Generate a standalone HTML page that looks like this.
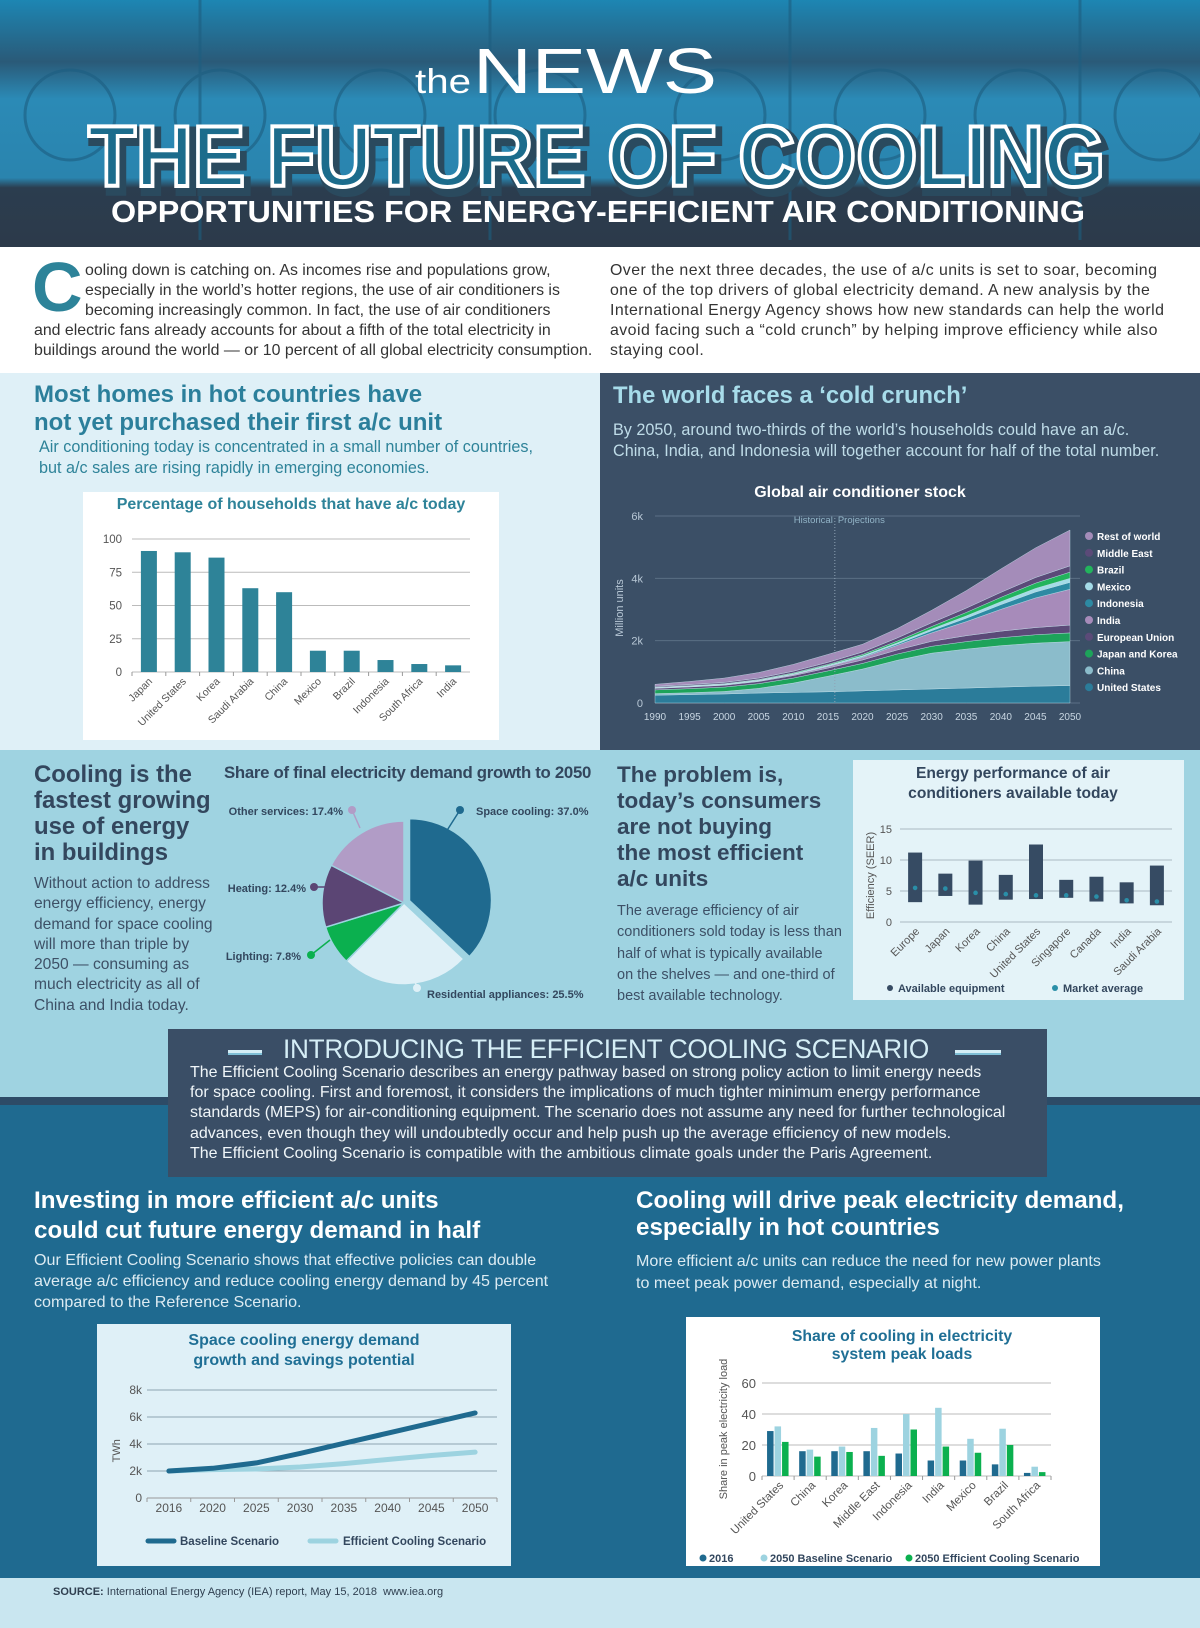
<!DOCTYPE html>
<html><head><meta charset="utf-8"><style>
*{margin:0;padding:0;box-sizing:border-box}
body{width:1200px;height:1628px;position:relative;overflow:hidden;font-family:"Liberation Sans",sans-serif;background:#fff}
.a{position:absolute;white-space:nowrap}
.bg{position:absolute}
svg.ov{position:absolute;left:0;top:0;width:1200px;height:1628px;overflow:visible}
</style></head><body>

<!-- Header -->
<svg class="ov" viewBox="0 0 1200 1628" style="height:1628px">
<defs>
<linearGradient id="hg" x1="0" y1="0" x2="0" y2="1">
<stop offset="0" stop-color="#1d86b3"/><stop offset="0.25" stop-color="#2a5a78"/><stop offset="0.4" stop-color="#2b8ab6"/><stop offset="0.72" stop-color="#2a84ae"/><stop offset="0.76" stop-color="#2b3d4f"/><stop offset="1" stop-color="#2c3a4a"/>
</linearGradient>
</defs>
<rect x="0" y="0" width="1200" height="247" fill="url(#hg)"/>
<g fill="none" stroke="#1d5e80" stroke-width="3" opacity="0.6">
<circle cx="70" cy="115" r="45"/><circle cx="220" cy="115" r="45"/><circle cx="380" cy="115" r="45"/><circle cx="540" cy="115" r="45"/><circle cx="720" cy="115" r="45"/><circle cx="880" cy="115" r="45"/><circle cx="1020" cy="115" r="45"/><circle cx="1160" cy="115" r="45"/>
<line x1="200" y1="0" x2="200" y2="240"/><line x1="490" y1="0" x2="490" y2="240"/><line x1="790" y1="0" x2="790" y2="240"/><line x1="1080" y1="0" x2="1080" y2="240"/>
</g>
<text x="415" y="93" fill="#fff" font-size="34" font-family="Liberation Sans" textLength="56" lengthAdjust="spacingAndGlyphs">the</text>
<text x="473" y="93" fill="#fff" font-size="64" font-family="Liberation Sans" textLength="244" lengthAdjust="spacingAndGlyphs">NEWS</text>
<text x="92" y="191" fill="#1b6684" stroke="#2a4a5e" stroke-width="10" font-size="86" font-weight="bold" font-family="Liberation Sans" textLength="1017" lengthAdjust="spacingAndGlyphs">THE FUTURE OF COOLING</text>
<text x="88" y="186" fill="#1c6c8c" stroke="#ffffff" stroke-width="4" font-size="86" font-weight="bold" font-family="Liberation Sans" textLength="1017" lengthAdjust="spacingAndGlyphs">THE FUTURE OF COOLING</text>
<text x="111" y="222" fill="#fff" font-size="31" font-weight="bold" font-family="Liberation Sans" textLength="974" lengthAdjust="spacingAndGlyphs">OPPORTUNITIES FOR ENERGY-EFFICIENT AIR CONDITIONING</text>
</svg>

<!-- Intro -->
<div class="a" style="left:32px;top:252px;font-size:70px;font-weight:bold;color:#2d8399;line-height:70px">C</div>
<div class="a" style="left:34px;top:261px;font-size:15.9px;line-height:19.9px;color:#333">
<span style="padding-left:51px">ooling down is catching on. As incomes rise and populations grow,</span><br>
<span style="padding-left:51px">especially in the world’s hotter regions, the use of air conditioners is</span><br>
<span style="padding-left:51px">becoming increasingly common. In fact, the use of air conditioners</span><br>
and electric fans already accounts for about a fifth of the total electricity in<br>
buildings around the world — or 10 percent of all global electricity consumption.</div>
<div class="a" style="left:610px;top:261px;font-size:15.9px;line-height:19.9px;color:#333;letter-spacing:0.45px">
Over the next three decades, the use of a/c units is set to soar, becoming<br>
one of the top drivers of global electricity demand. A new analysis by the<br>
International Energy Agency shows how new standards can help the world<br>
avoid facing such a “cold crunch” by helping improve efficiency while also<br>
staying cool.</div>

<!-- Section 2 -->
<div class="bg" style="left:0;top:373px;width:600px;height:377px;background:#dff0f7"></div>
<div class="bg" style="left:600px;top:373px;width:600px;height:377px;background:#3b4f66"></div>
<div class="a" style="left:34px;top:381px;font-size:24px;font-weight:bold;color:#2b7f9b;line-height:28px">Most homes in hot countries have<br>not yet purchased their first a/c unit</div>
<div class="a" style="left:39px;top:437px;font-size:16.2px;color:#2e8399;line-height:21px">Air conditioning today is concentrated in a small number of countries,<br>but a/c sales are rising rapidly in emerging economies.</div>
<div class="bg" style="left:83px;top:492px;width:416px;height:248px;background:#fff"></div>
<div class="a" style="left:83px;top:496px;width:416px;text-align:center;font-size:16px;font-weight:bold;color:#2e8399">Percentage of households that have a/c today</div>
<svg class="ov" id="c1"></svg>

<div class="a" style="left:613px;top:382px;font-size:23.8px;font-weight:bold;color:#a7dcea">The world faces a ‘cold crunch’</div>
<div class="a" style="left:613px;top:420px;font-size:16.2px;color:#bfdce8;line-height:21px">By 2050, around two-thirds of the world’s households could have an a/c.<br>China, India, and Indonesia will together account for half of the total number.</div>
<div class="a" style="left:600px;top:484px;width:520px;text-align:center;font-size:16px;font-weight:bold;color:#fff">Global air conditioner stock</div>
<svg class="ov" id="c2"></svg>

<!-- Section 3 -->
<div class="bg" style="left:0;top:750px;width:1200px;height:350px;background:#9fd3e1"></div>
<div class="a" style="left:34px;top:762px;font-size:23.9px;font-weight:bold;color:#33475e;line-height:26px">Cooling is the<br>fastest growing<br>use of energy<br>in buildings</div>
<div class="a" style="left:34px;top:874px;font-size:15.6px;color:#3d5066;line-height:20.3px">Without action to address<br>energy efficiency, energy<br>demand for space cooling<br>will more than triple by<br>2050 — consuming as<br>much electricity as all of<br>China and India today.</div>
<div class="a" style="left:224px;top:763px;font-size:16.8px;color:#33475e;font-weight:bold;letter-spacing:-0.3px">Share of final electricity demand growth to 2050</div>
<svg class="ov" id="c3"></svg>
<div class="a" style="left:617px;top:762px;font-size:22.5px;font-weight:bold;color:#33475e;line-height:25.9px">The problem is,<br>today’s consumers<br>are not buying<br>the most efficient<br>a/c units</div>
<div class="a" style="left:617px;top:901px;font-size:14.5px;color:#3d5066;line-height:21.3px">The average efficiency of air<br>conditioners sold today is less than<br>half of what is typically available<br>on the shelves — and one-third of<br>best available technology.</div>
<div class="bg" style="left:853px;top:760px;width:331px;height:240px;background:#e4f3f8"></div>
<div class="a" style="left:853px;top:764px;width:320px;text-align:center;font-size:15.6px;font-weight:bold;color:#33475e;line-height:20px">Energy performance of air<br>conditioners available today</div>
<svg class="ov" id="c4"></svg>

<!-- Section 4 -->
<div class="bg" style="left:0;top:1097px;width:1200px;height:481px;background:#1f6a90"></div>
<div class="bg" style="left:0;top:1097px;width:1200px;height:8px;background:#2d4b67"></div>
<div class="bg" style="left:168px;top:1029px;width:879px;height:148px;background:#3a4e66"></div>
<div class="bg" style="left:228px;top:1050px;width:34px;height:5px;background:#d5eef6;border-bottom:2px solid #7fbfd6"></div>
<div class="bg" style="left:955px;top:1050px;width:46px;height:5px;background:#d5eef6;border-bottom:2px solid #7fbfd6"></div>
<div class="a" style="left:283px;top:1034px;font-size:27px;color:#d5eef6;transform-origin:0 0;transform:scaleX(0.97);letter-spacing:-0.3px">INTRODUCING THE EFFICIENT COOLING SCENARIO</div>
<div class="a" style="left:190px;top:1063px;font-size:16px;color:#f0f6f9;line-height:20.2px">The Efficient Cooling Scenario describes an energy pathway based on strong policy action to limit energy needs<br>for space cooling. First and foremost, it considers the implications of much tighter minimum energy performance<br>standards (MEPS) for air-conditioning equipment. The scenario does not assume any need for further technological<br>advances, even though they will undoubtedly occur and help push up the average efficiency of new models.<br>The Efficient Cooling Scenario is compatible with the ambitious climate goals under the Paris Agreement.</div>

<div class="a" style="left:34px;top:1186px;font-size:24.2px;font-weight:bold;color:#fff;line-height:30px">Investing in more efficient a/c units<br>could cut future energy demand in half</div>
<div class="a" style="left:34px;top:1250px;font-size:16.1px;color:#dcebf2;line-height:21px">Our Efficient Cooling Scenario shows that effective policies can double<br>average a/c efficiency and reduce cooling energy demand by 45 percent<br>compared to the Reference Scenario.</div>
<div class="a" style="left:636px;top:1187px;font-size:24.2px;font-weight:bold;color:#fff;line-height:27px">Cooling will drive peak electricity demand,<br>especially in hot countries</div>
<div class="a" style="left:636px;top:1250px;font-size:16.1px;color:#dcebf2;line-height:22px">More efficient a/c units can reduce the need for new power plants<br>to meet peak power demand, especially at night.</div>

<div class="bg" style="left:97px;top:1324px;width:414px;height:242px;background:#dff0f7"></div>
<div class="a" style="left:97px;top:1331px;width:414px;text-align:center;font-size:16px;font-weight:bold;color:#1f6f95;line-height:20px">Space cooling energy demand<br>growth and savings potential</div>
<svg class="ov" id="c5"></svg>

<div class="bg" style="left:686px;top:1317px;width:414px;height:249px;background:#fff"></div>
<div class="a" style="left:686px;top:1328px;width:432px;text-align:center;font-size:15.8px;font-weight:bold;color:#1f6f95;line-height:18px">Share of cooling in electricity<br>system peak loads</div>
<svg class="ov" id="c6"></svg>

<div class="bg" style="left:0;top:1578px;width:1200px;height:50px;background:#c9e6f0"></div>
<div class="a" style="left:53px;top:1586px;font-size:11px;color:#2f3f50"><b>SOURCE:</b> International Energy Agency (IEA) report, May 15, 2018 &nbsp;www.iea.org</div>

<script>
const NS='http://www.w3.org/2000/svg';
function mk(tag,attrs,parent,txt){const e=document.createElementNS(NS,tag);for(const k in attrs)e.setAttribute(k,attrs[k]);if(txt!==undefined)e.textContent=txt;parent.appendChild(e);return e;}

// ---- Chart 1 data
const hhCategories=['Japan','United States','Korea','Saudi Arabia','China','Mexico','Brazil','Indonesia','South Africa','India'];
const hhValues=[91,90,86,63,60,16,16,9,6,5];
const hhTicks=[0,25,50,75,100];
// ---- Chart 2 data
const stockYears=[1990,1995,2000,2005,2010,2015,2020,2025,2030,2035,2040,2045,2050];
const stockLayerNames=['United States','China','Japan and Korea','European Union','India','Indonesia','Mexico','Brazil','Middle East','Rest of world'];
const stockUS=[250,270,290,320,340,360,390,420,450,480,510,540,560];
const stockChina=[50,60,80,150,300,500,700,950,1150,1250,1330,1380,1410];
const stockJK=[120,130,140,150,160,170,180,200,220,240,255,270,280];
const stockEU=[50,55,60,70,80,90,110,130,160,190,210,230,250];
const stockIndia=[10,12,15,20,30,50,80,150,270,450,700,950,1150];
const stockIndonesia=[5,5,6,8,10,15,25,40,70,110,150,190,220];
const stockMexico=[10,12,14,16,20,25,30,40,55,75,95,115,130];
const stockBrazil=[10,12,15,20,25,30,40,55,80,110,140,170,200];
const stockME=[30,35,40,45,55,65,80,100,120,140,160,180,200];
const stockRoW=[65,100,140,180,220,255,250,300,400,560,750,950,1150];
const stockTicks=[0,2000,4000,6000];
const stockTickLabels=['0','2k','4k','6k'];
// ---- Chart 3 data
const pieLabels=['Space cooling','Residential appliances','Lighting','Heating','Other services'];
const pieValues=[37.0,25.5,7.8,12.4,17.4];
// ---- Chart 4 data
const effCategories=['Europe','Japan','Korea','China','United States','Singapore','Canada','India','Saudi Arabia'];
const effMin=[3.2,4.2,2.8,3.6,3.7,3.9,3.3,3.0,2.7];
const effMax=[11.2,7.8,9.9,7.6,12.5,6.8,7.3,6.4,9.1];
const effAvg=[5.5,5.4,4.7,4.5,4.3,4.3,4.1,3.5,3.3];
const effTicks=[0,5,10,15];
// ---- Chart 5 data
const demandYears=['2016','2020','2025','2030','2035','2040','2045','2050'];
const demandBaseline=[2000,2200,2600,3300,4050,4800,5550,6300];
const demandEfficient=[2000,2100,2150,2300,2550,2850,3150,3400];
const demandTicks=[0,2000,4000,6000,8000];
const demandTickLabels=['0','2k','4k','6k','8k'];
// ---- Chart 6 data
const peakCategories=['United States','China','Korea','Middle East','Indonesia','India','Mexico','Brazil','South Africa'];
const peak2016=[29,16,16,16,14.5,10,10,7.5,2];
const peakBaseline=[32,17,19,31,40,44,24,30.5,6];
const peakEfficient=[22,12.5,15.5,13,30,19,15,20,2.5];
const peakTicks=[0,20,40,60];

// ===== Chart 1
(function(){
const s=document.getElementById('c1');


const X0=132,X1=470,Y0=672,Y1=539;const bw=(X1-X0)/hhCategories.length;
const y=v=>Y0-(v/100)*(Y0-Y1);
hhTicks.forEach(t=>{
 const g=mk('line',{x1:X0,x2:X1,y1:y(t),y2:y(t),stroke:'#bbb','stroke-width':1},s);
 
 
 const l=mk('text',{x:X0-10,y:y(t)+4,'text-anchor':'end','font-size':11.5,fill:'#555','font-family':'Liberation Sans'},s,String(t));
 
 
});
hhCategories.forEach((c,i)=>{
 const cx=X0+bw*(i+0.5);
 const b=mk('rect',{x:cx-8,y:y(hhValues[i]),width:16,height:Y0-y(hhValues[i]),fill:'#2e8398'},s);
 
 
 mk('line',{x1:X0+bw*i,x2:X0+bw*i,y1:Y0,y2:Y0+4,stroke:'#999'},s);
 const l=mk('text',{x:cx+4,y:Y0+10,'text-anchor':'end','font-size':10.5,fill:'#555','font-family':'Liberation Sans',transform:`rotate(-45 ${cx+4} ${Y0+10})`},s,c);
 
 
});
})();

// ===== Chart 2
(function(){
const s=document.getElementById('c2');


const X0=655,X1=1070,Y0=703,Y6=516;
const x=i=>X0+(X1-X0)*i/(stockYears.length-1);
const y=v=>Y0-(v/6000)*(Y0-Y6);
stockTicks.forEach((t,i)=>{
 const g=mk('line',{x1:X0,x2:X1+10,y1:y(t),y2:y(t),stroke:'#5b6f85','stroke-width':1},s);
 
 
 const l=mk('text',{x:X0-12,y:y(t)+4,'text-anchor':'end','font-size':11,fill:'#b8c8d6','font-family':'Liberation Sans'},s,stockTickLabels[i]);
 
 
});
const yl=mk('text',{x:623,y:608,'text-anchor':'middle','font-size':11,fill:'#b8c8d6','font-family':'Liberation Sans',transform:'rotate(-90 623 608)'},s,'Million units');


stockYears.forEach((yr,i)=>{
 const l=mk('text',{x:x(i),y:Y0+17,'text-anchor':'middle','font-size':10,fill:'#c8d6e2','font-family':'Liberation Sans'},s,String(yr));
 
 
});
const layers=[stockUS,stockChina,stockJK,stockEU,stockIndia,stockIndonesia,stockMexico,stockBrazil,stockME,stockRoW];
const cols=['#2b7c9a','#8bbccb','#1da35a','#5b4a78','#a78bba','#2d8aa3','#a4dbe7','#22b45c','#5b4a78','#a48cb9'];
let base=stockYears.map(()=>0);
layers.forEach((L,k)=>{
 const top=base.map((b,i)=>b+L[i]);
 let d='M'+top.map((v,i)=>x(i)+','+y(v)).join(' L');
 for(let i=base.length-1;i>=0;i--)d+=' L'+x(i)+','+y(base[i]);
 const p=mk('path',{d:d+'Z',fill:cols[k],stroke:'#c7e3ec','stroke-width':0.4},s);
 
 
 base=top;
});
const hx=x(0)+(X1-X0)*(2016-1990)/60;
const dv=mk('line',{x1:hx,x2:hx,y1:Y6+2,y2:Y0,stroke:'#8fa3b5','stroke-dasharray':'1,2'},s);


const ht=mk('text',{x:hx-2,y:Y6+7,'text-anchor':'end','font-size':9.5,fill:'#93b5c8','font-family':'Liberation Sans'},s,'Historical');


const pt=mk('text',{x:hx+3,y:Y6+7,'font-size':9.5,fill:'#93b5c8','font-family':'Liberation Sans'},s,'Projections');


for(let k=layers.length-1;k>=0;k--){
 const row=layers.length-1-k;const ly=540+row*16.8;
 const c=mk('circle',{cx:1089,cy:ly-4,r:4,fill:cols[k]},s);
 
 
 const t=mk('text',{x:1097,y:ly,'font-size':10,'font-weight':'bold',fill:'#fff','font-family':'Liberation Sans'},s,stockLayerNames[k]);
 
 
}
})();

// ===== Chart 3 pie
(function(){
const s=document.getElementById('c3');


const cx=404,cy=903,r=82;
const cols=['#1f6a8f','#dff0f7','#0bb04f','#5b4574','#b19cc6'];
const total=pieValues.reduce((a,b)=>a+b,0);
let a0=-Math.PI/2;
pieValues.forEach((v,i)=>{
 const a1=a0+v/total*Math.PI*2;
 const off=i===0?6:0;const am=(a0+a1)/2;
 const ox=cx+off*Math.cos(am),oy=cy+off*Math.sin(am);
 const lg=(a1-a0)>Math.PI?1:0;
 const d=`M${ox},${oy} L${ox+r*Math.cos(a0)},${oy+r*Math.sin(a0)} A${r},${r} 0 ${lg} 1 ${ox+r*Math.cos(a1)},${oy+r*Math.sin(a1)} Z`;
 const p=mk('path',{d:d,fill:cols[i],stroke:'#9fd3e1','stroke-width':1.5},s);
 
 
 a0=a1;
});
const lab=[[460,810,446,832,476,815,'start','#1f6a8f'],[417,988,414,978,427,998,'start','#dff0f7'],[311,955,330,940,301,960,'end','#0bb04f'],[314,887,325,887,306,892,'end','#5b4574'],[352,810,360,828,343,815,'end','#b19cc6']];
pieValues.forEach((v,i)=>{
 const L=lab[i];
 const ln=mk('line',{x1:L[0],y1:L[1],x2:L[2],y2:L[3],stroke:L[7],'stroke-width':1.5},s);
 
 
 const c=mk('circle',{cx:L[0],cy:L[1],r:4,fill:L[7]},s);
 
 
 const t=mk('text',{x:L[4],y:L[5],'text-anchor':L[6],'font-size':11,'font-weight':'bold',fill:'#33475e','font-family':'Liberation Sans'},s,pieLabels[i]+': '+v.toFixed(1)+'%');
 
 
});
})();

// ===== Chart 4
(function(){
const s=document.getElementById('c4');


const X0=900,X1=1172,Y0=922,Y15=829;const bw=(X1-X0)/effCategories.length;
const y=v=>Y0-(v/15)*(Y0-Y15);
effTicks.forEach(t=>{
 const g=mk('line',{x1:X0,x2:X1,y1:y(t),y2:y(t),stroke:'#aab8c2'},s);
 
 
 const l=mk('text',{x:X0-8,y:y(t)+4,'text-anchor':'end','font-size':11,fill:'#555','font-family':'Liberation Sans'},s,String(t));
 
 
});
const yt=mk('text',{x:874,y:y(7.5),'text-anchor':'middle','font-size':11,fill:'#555','font-family':'Liberation Sans',transform:`rotate(-90 874 ${y(7.5)})`},s,'Efficiency (SEER)');


effCategories.forEach((c,i)=>{
 const cx=X0+bw*(i+0.5);
 const b=mk('rect',{x:cx-7,y:y(effMax[i]),width:14,height:y(effMin[i])-y(effMax[i]),fill:'#364b63'},s);
 
 
 const d=mk('circle',{cx:cx,cy:y(effAvg[i]),r:2.3,fill:'#2a8fa8'},s);
 
 
 const l=mk('text',{x:cx+5,y:Y0+10,'text-anchor':'end','font-size':11,fill:'#555','font-family':'Liberation Sans',transform:`rotate(-45 ${cx+5} ${Y0+10})`},s,c);
 
 
});
const l1=mk('circle',{cx:890,cy:988,r:3,fill:'#364b63'},s);


const t1=mk('text',{x:898,y:992,'font-size':11,'font-weight':'bold',fill:'#33475e','font-family':'Liberation Sans'},s,'Available equipment');


const l2=mk('circle',{cx:1055,cy:988,r:3,fill:'#2a8fa8'},s);


const t2=mk('text',{x:1063,y:992,'font-size':11,'font-weight':'bold',fill:'#33475e','font-family':'Liberation Sans'},s,'Market average');


})();

// ===== Chart 5
(function(){
const s=document.getElementById('c5');


const X0=147,X1=497,Y0=1498,Y8=1390;const bw=(X1-X0)/demandYears.length;
const y=v=>Y0-(v/8000)*(Y0-Y8);const x=i=>X0+bw*(i+0.5);
demandTicks.forEach((t,i)=>{
 if(t>0){const g=mk('line',{x1:X0,x2:X1,y1:y(t),y2:y(t),stroke:'#8da3b0'},s);
 
 }
 const l=mk('text',{x:X0-5,y:y(t)+4,'text-anchor':'end','font-size':12,fill:'#555','font-family':'Liberation Sans'},s,demandTickLabels[i]);
 
 
});
mk('line',{x1:X0,x2:X1,y1:Y0,y2:Y0,stroke:'#999'},s);
const yt=mk('text',{x:120,y:y(3500),'text-anchor':'middle','font-size':11,fill:'#555','font-family':'Liberation Sans',transform:`rotate(-90 120 ${y(3500)})`},s,'TWh');


demandYears.forEach((yr,i)=>{
 mk('line',{x1:X0+bw*i,x2:X0+bw*i,y1:Y0,y2:Y0+4,stroke:'#999'},s);
 const l=mk('text',{x:x(i),y:Y0+14,'text-anchor':'middle','font-size':12,fill:'#555','font-family':'Liberation Sans'},s,yr);
 
 
});
mk('line',{x1:X1,x2:X1,y1:Y0,y2:Y0+4,stroke:'#999'},s);
const eff=mk('path',{d:'M'+demandEfficient.map((v,i)=>x(i)+','+y(v)).join(' L'),fill:'none',stroke:'#9dd3e0','stroke-width':5,'stroke-linecap':'round','stroke-linejoin':'round'},s);


const bas=mk('path',{d:'M'+demandBaseline.map((v,i)=>x(i)+','+y(v)).join(' L'),fill:'none',stroke:'#1f6a8f','stroke-width':5,'stroke-linecap':'round','stroke-linejoin':'round'},s);


const a=mk('line',{x1:148,x2:174,y1:1541,y2:1541,stroke:'#1f6a8f','stroke-width':5,'stroke-linecap':'round'},s);


const at=mk('text',{x:180,y:1545,'font-size':11.5,'font-weight':'bold',fill:'#33475e','font-family':'Liberation Sans'},s,'Baseline Scenario');


const b=mk('line',{x1:310,x2:336,y1:1541,y2:1541,stroke:'#9dd3e0','stroke-width':5,'stroke-linecap':'round'},s);


const bt=mk('text',{x:343,y:1545,'font-size':11.5,'font-weight':'bold',fill:'#33475e','font-family':'Liberation Sans'},s,'Efficient Cooling Scenario');


})();

// ===== Chart 6
(function(){
const s=document.getElementById('c6');


const X0=762,X1=1051,Y0=1476,Y60=1383;const bw=(X1-X0)/peakCategories.length;
const y=v=>Y0-(v/60)*(Y0-Y60);
peakTicks.forEach(t=>{
 const g=mk('line',{x1:X0,x2:X1,y1:y(t),y2:y(t),stroke:'#bbb'},s);
 
 
 const l=mk('text',{x:X0-6,y:y(t)+5,'text-anchor':'end','font-size':13,fill:'#555','font-family':'Liberation Sans'},s,String(t));
 
 
});
const yt=mk('text',{x:727,y:1429,'text-anchor':'middle','font-size':11,fill:'#555','font-family':'Liberation Sans',transform:'rotate(-90 727 1429)'},s,'Share in peak electricity load');


const series=[peak2016,peakBaseline,peakEfficient];const cols=['#1f6a8f','#9dd3e0','#0bb04f'];const sn=['2016','baseline','efficient'];
peakCategories.forEach((c,i)=>{
 const cx=X0+bw*(i+0.5);
 series.forEach((ser,k)=>{
  const b=mk('rect',{x:cx-11+k*7.5,y:y(ser[i]),width:6.5,height:Y0-y(ser[i]),fill:cols[k]},s);
  
  
 });
 mk('line',{x1:X0+bw*i,x2:X0+bw*i,y1:Y0,y2:Y0+4,stroke:'#999'},s);
 const l=mk('text',{x:cx+6,y:Y0+10,'text-anchor':'end','font-size':11.5,fill:'#555','font-family':'Liberation Sans',transform:`rotate(-45 ${cx+6} ${Y0+10})`},s,c);
 
 
});
mk('line',{x1:X1,x2:X1,y1:Y0,y2:Y0+4,stroke:'#999'},s);
const legs=[['2016',703],['2050 Baseline Scenario',764],['2050 Efficient Cooling Scenario',909]];
legs.forEach((L,k)=>{
 const c=mk('circle',{cx:L[1],cy:1558,r:3.5,fill:cols[k]},s);
 
 
 const t=mk('text',{x:L[1]+6,y:1562,'font-size':11,'font-weight':'bold',fill:'#33475e','font-family':'Liberation Sans'},s,L[0]);
 
 
});
})();
</script>
</body></html>
